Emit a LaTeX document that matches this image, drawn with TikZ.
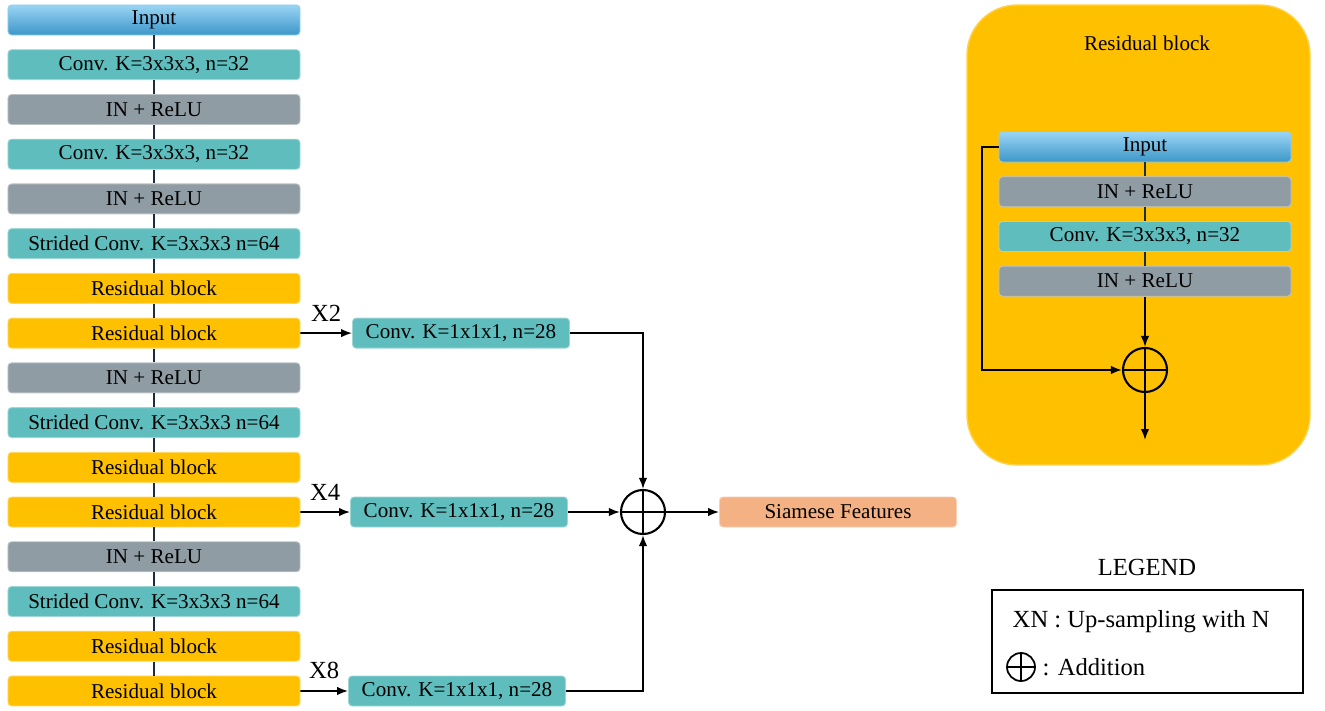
\documentclass[tikz,border=0pt]{standalone}
\usepackage{fontspec}
\setmainfont{Liberation Serif}
\usetikzlibrary{arrows.meta}
\definecolor{inblue}{HTML}{47B1EC}
\definecolor{convteal}{HTML}{5FBDBD}
\definecolor{normgray}{HTML}{8F9CA3}
\definecolor{resgold}{HTML}{FFC000}
\definecolor{featsalmon}{HTML}{F4B183}
\definecolor{linkdark}{HTML}{1C2E3C}
\tikzset{
  box/.style = {rounded corners=2pt, minimum width=58.4mm, minimum height=6mm,
    inner sep=0pt, font=\fontsize{12}{14}\selectfont},
  inbox/.style = {box, top color=inblue!55!white, bottom color=inblue!85!black,
    draw=inblue!60!white, line width=0.5pt},
  convbox/.style = {box, fill=convteal, draw=convteal!60!white, line width=0.5pt},
  normbox/.style = {box, fill=normgray, draw=normgray!60!white, line width=0.5pt},
  resbox/.style = {box, fill=resgold, draw=resgold!60!white, line width=0.5pt},
  adder/.style = {draw, circle, line width=1.2pt, minimum size=#1, inner sep=0pt,
    path picture={\draw[line width=1.2pt]
      (path picture bounding box.north) -- (path picture bounding box.south)
      (path picture bounding box.west) -- (path picture bounding box.east);}},
  adder/.default = 8.8mm,
  link/.style = {draw=linkdark, line width=1pt},
  lbl/.style = {font=\fontsize{14}{16}\selectfont}
}
\begin{document}
\begin{tikzpicture}[x=0.2mm, y=0.2mm, node distance=8.946mm,
  >={Latex[length=2.2mm,width=1.7mm]}, line width=1pt]
\useasboundingbox (0,0) rectangle (1325,-711);
% encoder column
\node[inbox] (in) at (154,-20) {Input};
\node[convbox] (c1) [below of=in] {Conv. K=3x3x3, n=32};
\node[normbox] (n1) [below of=c1] {IN + ReLU};
\node[convbox] (c2) [below of=n1] {Conv. K=3x3x3, n=32};
\node[normbox] (n2) [below of=c2] {IN + ReLU};
\node[convbox] (s1) [below of=n2] {Strided Conv. K=3x3x3 n=64};
\node[resbox] (r1) [below of=s1] {Residual block};
\node[resbox] (r2) [below of=r1] {Residual block};
\node[normbox] (n3) [below of=r2] {IN + ReLU};
\node[convbox] (s2) [below of=n3] {Strided Conv. K=3x3x3 n=64};
\node[resbox] (r3) [below of=s2] {Residual block};
\node[resbox] (r4) [below of=r3] {Residual block};
\node[normbox] (n4) [below of=r4] {IN + ReLU};
\node[convbox] (s3) [below of=n4] {Strided Conv. K=3x3x3 n=64};
\node[resbox] (r5) [below of=s3] {Residual block};
\node[resbox] (r6) [below of=r5] {Residual block};
\draw[link] (in) -- (c1);
\draw[link] (c1) -- (n1);
\draw[link] (n1) -- (c2);
\draw[link] (c2) -- (n2);
\draw[link] (n2) -- (s1);
\draw[link] (s1) -- (r1);
\draw[link] (r1) -- (r2);
\draw[link] (r2) -- (n3);
\draw[link] (n3) -- (s2);
\draw[link] (s2) -- (r3);
\draw[link] (r3) -- (r4);
\draw[link] (r4) -- (n4);
\draw[link] (n4) -- (s3);
\draw[link] (s3) -- (r5);
\draw[link] (r5) -- (r6);
% 1x1 convs and fusion
\node[convbox, minimum width=43.4mm] (k1) at (461,-333.1) {Conv. K=1x1x1, n=28};
\node[convbox, minimum width=43.4mm] (k2) at (459,-512) {Conv. K=1x1x1, n=28};
\node[convbox, minimum width=43.4mm] (k3) at (457,-691) {Conv. K=1x1x1, n=28};
\node[adder] (add) at (643,-512) {};
\node[box, fill=featsalmon, draw=featsalmon!60!white, line width=0.5pt,
  minimum width=47.4mm] (sf) at (838,-512) {Siamese Features};
\draw[->] (r2) -- (k1) node[midway, above=3pt, lbl] {X2};
\draw[->] (r4) -- (k2) node[midway, above=3pt, lbl] {X4};
\draw[->] (r6) -- (k3) node[midway, above=3pt, lbl] {X8};
\draw[->] (k1) -| (add);
\draw[->] (k2) -- (add);
\draw[->] (k3) -| (add);
\draw[->] (add) -- (sf);
% residual block detail
\node[rounded corners=1cm, fill=resgold, draw=resgold!70!white, line width=0.8pt,
  minimum width=68.6mm, minimum height=92mm] (rb) at (1138.5,-235) {};
\node[font=\fontsize{12}{14}\selectfont] (rbt) at (1147,-43) {Residual block};
\node[inbox] (ri) at (1145,-147) {Input};
\node[normbox] (rn1) [below of=ri] {IN + ReLU};
\node[convbox] (rc) [below of=rn1] {Conv. K=3x3x3, n=32};
\node[normbox] (rn2) [below of=rc] {IN + ReLU};
\node[adder] (radd) at (1145,-370) {};
\coordinate (skip) at (982,-147);
\coordinate (rout) at (1145,-440);
\draw[link] (ri) -- (rn1);
\draw[link] (rn1) -- (rc);
\draw[link] (rc) -- (rn2);
\draw[->] (rn2) -- (radd);
\draw[->] (ri) -- (skip) |- (radd);
\draw[->] (radd) -- (rout);
% legend
\node[lbl] (lgt) at (1147,-567) {LEGEND};
\node[draw, line width=1.2pt, minimum width=62.2mm, minimum height=20.6mm] (lg) at (1147.5,-641.5) {};
\node[lbl, anchor=west] (lg1) at (1006,-622) {XN : Up-sampling with N};
\node[adder=5.6mm, line width=1pt] (lgadd) at (1021,-667) {};
\node[lbl, anchor=west] (lg2) at (1036,-667) {: Addition};
\end{tikzpicture}
\end{document}
